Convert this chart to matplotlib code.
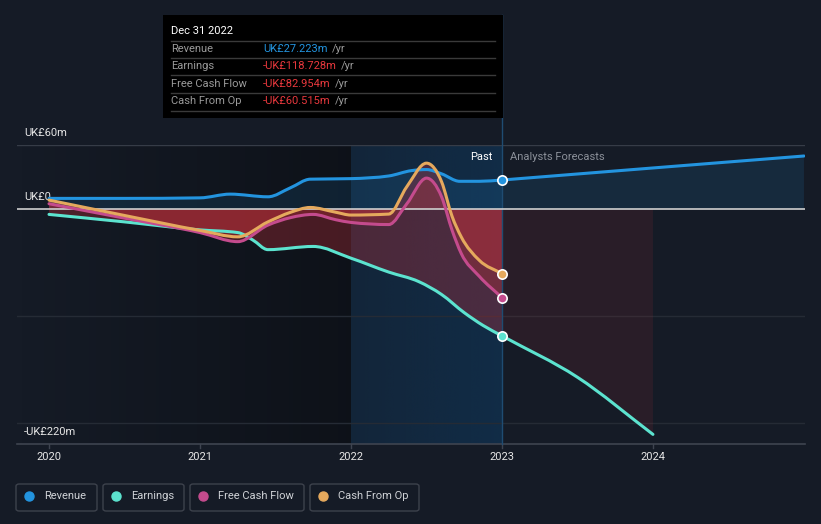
import numpy as np
import matplotlib
matplotlib.use('Agg')
from matplotlib import pyplot as plt
from matplotlib.patches import Rectangle, FancyBboxPatch, PathPatch
from matplotlib.path import Path

plt.rcParams['font.family'] = ['Roboto', 'DejaVu Sans']

# values in UK£m, dates as decimal years
rev_x = [2020.0, 2020.5, 2021.0, 2021.2, 2021.45, 2021.6, 2021.73, 2022.0, 2022.25, 2022.4, 2022.5,
         2022.6, 2022.72, 2022.85, 2023.0]
rev_y = [10, 10, 10.5, 14, 11.5, 20, 28, 28.5, 31, 36, 37, 33, 26, 26, 27.2]
rev_fc_x = [2023.0, 2024.0, 2025.0]
rev_fc_y = [27.2, 38.5, 49.7]

earn_x = [2020.0, 2020.5, 2021.0, 2021.25, 2021.35, 2021.45, 2021.75, 2022.0, 2022.25, 2022.45,
          2022.6, 2022.75, 2022.875, 2023.0]
earn_y = [-5, -12, -19.5, -22, -29, -38, -35, -46, -59, -68, -80, -97, -109, -118.728]
earn_fc_x = [2023.0, 2023.5, 2024.0]
earn_fc_y = [-118.728, -157.5, -211]

fcf_x = [2020.0, 2020.5, 2021.0, 2021.25, 2021.45, 2021.6, 2021.75, 2021.9, 2022.0, 2022.25,
         2022.37, 2022.5, 2022.6, 2022.67, 2022.73, 2022.85, 2023.0]
fcf_y = [5, -8.5, -22, -30.5, -15, -8, -5, -10, -12.5, -14.5, 5, 29, 11.5, -20, -41.5, -63, -82.954]

cfo_x = [2020.0, 2020.5, 2021.0, 2021.25, 2021.45, 2021.6, 2021.73, 2021.9, 2022.0, 2022.25,
         2022.37, 2022.5, 2022.6, 2022.67, 2022.73, 2022.85, 2023.0]
cfo_y = [8.4, -6, -20, -26, -12, -3, 1.5, -3, -5.6, -4.7, 21, 43, 25.6, -7, -26, -48, -60.515]

years = [2020, 2021, 2022, 2023, 2024]
y_labels = ['UK£60m', 'UK£0', '-UK£220m']
y_label_vals = [60, 0, -220]

names = ['Revenue', 'Earnings', 'Free Cash Flow', 'Cash From Op']
colors = ['#2394df', '#5ce3cf', '#c44b8d', '#e5a95d']
tip_vals = ['UK£27.223m', '-UK£118.728m', '-UK£82.954m', '-UK£60.515m']
tip_cols = ['#2394df', '#e8383d', '#e8383d', '#e8383d']

W, H = 821, 524
bg = '#151b26'


def fx(x):
    return x / W


def fy(y):
    return 1 - y / H


def monotone_path(xs, ys, close_to_zero=False):
    # monotone-x cubic bezier through the read points (drawing style only)
    x = np.asarray(xs, float)
    y = np.asarray(ys, float)
    h = np.diff(x)
    d = np.diff(y) / h
    m = np.zeros(len(x))
    m[0], m[-1] = d[0], d[-1]
    for i in range(1, len(x) - 1):
        if d[i - 1] * d[i] <= 0:
            m[i] = 0
        else:
            p = (d[i - 1] * h[i] + d[i] * h[i - 1]) / (h[i - 1] + h[i])
            m[i] = np.sign(d[i]) * min(abs(d[i - 1]), abs(d[i]), 0.5 * abs(p)) * 2 \
                if False else np.sign(p) * min(abs(p), 2 * abs(d[i - 1]), 2 * abs(d[i]))
    verts = [(x[0], y[0])]
    codes = [Path.MOVETO]
    for i in range(len(x) - 1):
        verts += [(x[i] + h[i] / 3, y[i] + m[i] * h[i] / 3),
                  (x[i + 1] - h[i] / 3, y[i + 1] - m[i + 1] * h[i] / 3),
                  (x[i + 1], y[i + 1])]
        codes += [Path.CURVE4] * 3
    if close_to_zero:
        verts += [(x[-1], 0), (x[0], 0), (x[0], y[0])]
        codes += [Path.LINETO, Path.LINETO, Path.CLOSEPOLY]
    return Path(verts, codes)


fig = plt.figure(figsize=(W / 100, H / 100), dpi=100, facecolor=bg)
xmin, xmax = 2019.788, 2025.007
ax = fig.add_axes([fx(17), 80 / H, 788 / W, 299 / H])
ax.set_facecolor(bg)
for s in ax.spines.values():
    s.set_visible(False)
ax.set_xticks([])
ax.set_yticks([])

# background shading zones
grad = np.zeros((2, 200, 4))
grad[..., 3] = np.linspace(0.0, 0.35, 200)
ax.imshow(grad, extent=(xmin, 2022, -220, 60), aspect='auto', zorder=0)
blue = np.zeros((2, 200, 4))
blue[..., 0] = 14 / 255
blue[..., 1] = 62 / 255
blue[..., 2] = 104 / 255
blue[..., 3] = np.linspace(0.3, 0.5, 200)
ax.imshow(blue, extent=(2022, 2023, -220, 60), aspect='auto', zorder=0)
ax.set_xlim(xmin, xmax)
ax.set_ylim(-220, 60)

# grid
ax.axhline(60, color='#363c47', lw=1, zorder=1)
for v in [-100, -200]:
    ax.axhline(v, color='#252b35', lw=1, zorder=1)
ax.axhline(-220, color='#3e4450', lw=1.2, zorder=1, clip_on=False)
ax.axhline(0, color='#cfcfcf', lw=1.2, zorder=4)

# fills
for xs, ys in [(rev_x, rev_y), (rev_fc_x, rev_fc_y)]:
    ax.add_patch(PathPatch(monotone_path(xs, ys, True), facecolor='#2394df', alpha=0.13, lw=0, zorder=2))
for xs, ys in [(earn_x, earn_y), (fcf_x, fcf_y), (cfo_x, cfo_y)]:
    ax.add_patch(PathPatch(monotone_path(xs, ys, True), facecolor='#c0303a', alpha=0.33, lw=0, zorder=2))
ax.add_patch(PathPatch(monotone_path(earn_fc_x, earn_fc_y, True), facecolor='#b0303a', alpha=0.13,
                       lw=0, zorder=2))

# lines
series = [(rev_x, rev_y, 0), (rev_fc_x, rev_fc_y, 0), (earn_x, earn_y, 1), (earn_fc_x, earn_fc_y, 1),
          (fcf_x, fcf_y, 2), (cfo_x, cfo_y, 3)]
for xs, ys, ci in series:
    ax.add_patch(PathPatch(monotone_path(xs, ys), facecolor='none', edgecolor=colors[ci], lw=2.2,
                           zorder=5, capstyle='round', joinstyle='round'))

# current year markers
ends = [rev_y[-1], earn_y[-1], fcf_y[-1], cfo_y[-1]]
for v, c in zip(ends, colors):
    ax.scatter([2023], [v], s=45, color=c, edgecolor='white', lw=1.2, zorder=7)

# divider between past and forecast
ax.axvline(2023, ymin=0, ymax=(444 - 15) / 299, color='#1f4c72', lw=1, zorder=3, clip_on=False)

# x ticks
for yr in years:
    ax.plot([yr, yr], [-220, -224], color='#3e4450', lw=1, clip_on=False, zorder=1)
    ax.text(yr, -232, str(yr), color='#e6e6e6', fontsize=8, ha='center', va='center')

# y labels
for lab, v in zip(y_labels, y_label_vals):
    ax.text(xmin + 0.045, v + 11.5, lab, color='#e6e6e6', fontsize=8, ha='left', va='center')

ax.text(2023 - 0.06, 49, 'Past', color='#ffffff', fontsize=8, ha='right', va='center')
ax.text(2023 + 0.05, 49, 'Analysts Forecasts', color='#8b9099', fontsize=8, ha='left', va='center')

# tooltip
fig.patches.append(Rectangle((fx(163), fy(118)), 340 / W, 103 / H, transform=fig.transFigure,
                             facecolor='#000000', edgecolor='none', zorder=10))
fig.text(fx(171), fy(31), 'Dec 31 2022', color='white', fontsize=8, va='center', zorder=11)
row_y = [49, 66, 84, 101]
for yl in [41, 58, 75, 93, 111]:
    fig.add_artist(plt.Line2D([fx(171), fx(495)], [fy(yl), fy(yl)], transform=fig.transFigure,
                              color='#3a3a3a', lw=1, zorder=11))
renderer = fig.canvas.get_renderer()
for name, val, col, yy in zip(names, tip_vals, tip_cols, row_y):
    fig.text(fx(171), fy(yy), name, color='#9a9a9a', fontsize=8, va='center', zorder=11)
    t = fig.text(fx(263), fy(yy), val, color=col, fontsize=8, va='center', zorder=11)
    bb = t.get_window_extent(renderer)
    fig.text(bb.x1 / W + fx(4), fy(yy), '/yr', color='#9a9a9a', fontsize=8, va='center', zorder=11)

# legend boxes
boxes = [(16, 97), (103, 184), (190, 304), (310, 419)]
for (x0, x1), name, col in zip(boxes, names, colors):
    fig.patches.append(FancyBboxPatch((fx(x0), fy(511)), (x1 - x0) / W, 27 / H,
                                      boxstyle='round,pad=0,rounding_size=0.004',
                                      transform=fig.transFigure, facecolor='none',
                                      edgecolor='#3d424c', lw=1))
    fig.add_artist(plt.Line2D([fx(x0 + 13)], [fy(496)], marker='o', markersize=6.5, color=col,
                              transform=fig.transFigure, lw=0))
    fig.text(fx(x0 + 28), fy(496), name, color='#cfd2d6', fontsize=8, va='center')

fig.savefig('out.png', dpi=100, facecolor=bg)
